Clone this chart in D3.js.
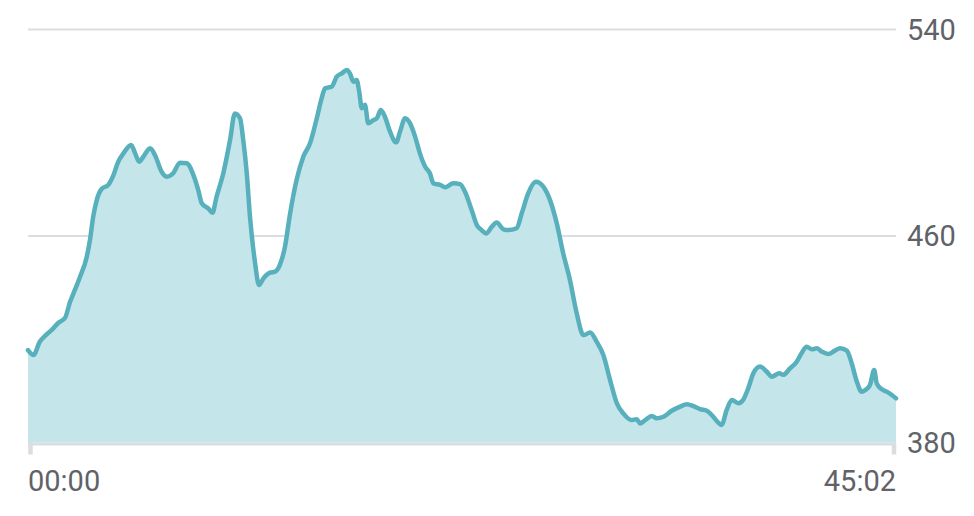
<!DOCTYPE html>
<html>
<head>
<meta charset="utf-8">
<script src="https://cdn.jsdelivr.net/npm/d3@7/dist/d3.min.js"></script>
<style>
  html, body { margin: 0; padding: 0; background: #ffffff; }
  svg { display: block; }
  text { font-family: Roboto, "Noto Sans", sans-serif; }
</style>
</head>
<body>
<svg id="chart" width="974" height="516"></svg>
<script>
// elapsed seconds
const times = [0,17,37,53,74,94,115,131,146,162,183,193,203,214,229,250,266,281,297,321,333,346,359,380,395,416,432,452,473,494,515,530,541,561,574,587,608,629,644,660,670,681,691,707,719,733,753,769,784,800,816,836,857,878,899,914,925,945,961,977,992,1002,1013,1023,1031,1039,1049,1059,1075,1086,1098,1111,1127,1146,1158,1174,1189,1205,1220,1236,1251,1262,1283,1298,1324,1345,1360,1381,1397,1412,1426,1444,1459,1480,1495,1521,1537,1557,1581,1604,1625,1646,1666,1687,1708,1729,1750,1770,1791,1812,1833,1853,1879,1895,1905,1921,1942,1957,1978,2004,2030,2051,2071,2092,2113,2133,2149,2159,2175,2191,2211,2227,2242,2258,2279,2300,2315,2339,2351,2372,2393,2408,2424,2440,2455,2471,2491,2512,2528,2549,2564,2580,2595,2606,2621,2634,2642,2658,2673,2689,2702];
// series values
const values = [415.8,413.9,419.1,421.3,423.6,426.3,428.2,434.5,439.1,444.2,452.0,458.5,467.5,473.9,478.2,479.8,483.6,488.8,492.0,495.3,492.2,488.8,490.7,494.0,491.4,484.9,483.0,484.3,488.4,488.2,483.6,477.8,472.7,470.7,469.0,475.2,484.3,497.2,507.5,505.6,497.2,484.3,467.5,449.4,441.0,443.6,445.8,446.2,448.8,455.9,468.8,481.7,490.7,495.9,505.6,513.3,517.2,517.8,521.7,523.0,524.3,523.0,519.8,520.4,515.9,509.5,510.8,503.7,504.9,505.6,508.8,506.2,500.4,496.3,500.4,505.6,503.7,498.5,492.0,486.9,484.3,480.4,479.8,478.9,480.4,480.1,477.2,470.1,464.3,462.3,461.0,463.6,465.2,462.6,462.3,463.0,468.8,476.5,481.0,479.1,473.9,464.9,453.3,443.0,430.1,421.6,422.6,419.1,413.9,404.2,395.2,391.3,388.7,389.0,387.4,388.7,390.3,389.4,390.0,392.3,393.9,394.8,394.1,392.9,392.3,390.0,387.7,386.8,392.6,396.5,395.2,396.7,401.0,406.8,409.4,407.4,405.5,406.8,406.2,408.7,411.3,414.6,417.1,416.1,416.5,415.2,414.3,415.6,416.5,415.6,410.7,403.6,399.7,400.3,402.3,408.1,402.9,400.6,399.7,398.4,397.1];
// tick labels
const yTicks = [380, 460, 540];
const xTickValues = [0, 2702];
const xTickLabels = ["00:00", "45:02"];

const data = times.map((t, i) => ({ t, v: values[i] }));

const svg = d3.select("#chart");
const x = d3.scaleLinear().domain([0, 2702]).range([28, 896]);
const y = d3.scaleLinear().domain([380, 540]).range([442.5, 29.5]);

// gridlines
svg.append("g").selectAll("line")
  .data(yTicks.filter(d => d !== 380))
  .join("line")
  .attr("x1", x(0)).attr("x2", x(2702))
  .attr("y1", d => y(d)).attr("y2", d => y(d))
  .attr("stroke", "#dcdde1").attr("stroke-width", 2);

// baseline
svg.append("line")
  .attr("x1", x(0)).attr("x2", x(2702))
  .attr("y1", y(380) + 1.5).attr("y2", y(380) + 1.5)
  .attr("stroke", "#dcdde1").attr("stroke-width", 3);

// x ticks
svg.append("g").selectAll("line")
  .data(xTickValues)
  .join("line")
  .attr("x1", (d, i) => x(d) + (i === 0 ? 2.5 : -2))
  .attr("x2", (d, i) => x(d) + (i === 0 ? 2.5 : -2))
  .attr("y1", y(380)).attr("y2", y(380) + 12)
  .attr("stroke", "#dcdde1").attr("stroke-width", 4.5);

// area + line
const area = d3.area().x(d => x(d.t)).y0(y(380)).y1(d => y(d.v)).curve(d3.curveMonotoneX);
const line = d3.line().x(d => x(d.t)).y(d => y(d.v)).curve(d3.curveMonotoneX);

svg.append("path").datum(data).attr("d", area).attr("fill", "#c4e5ea");
svg.append("path").datum(data).attr("d", line)
  .attr("fill", "none").attr("stroke", "#57b0bc")
  .attr("stroke-width", 4.5).attr("stroke-linejoin", "round").attr("stroke-linecap", "round");

// y labels
svg.append("g").selectAll("text")
  .data(yTicks)
  .join("text")
  .attr("x", 907).attr("y", d => y(d))
  .attr("dy", "0.36em")
  .attr("font-size", 29).attr("fill", "#5f6368")
  .text(d => d);

// x labels
svg.append("g").selectAll("text")
  .data(xTickValues)
  .join("text")
  .attr("x", d => x(d))
  .attr("y", 491)
  .attr("text-anchor", (d, i) => i === 0 ? "start" : "end")
  .attr("font-size", 29).attr("fill", "#5f6368")
  .text((d, i) => xTickLabels[i]);
</script>
</body>
</html>
